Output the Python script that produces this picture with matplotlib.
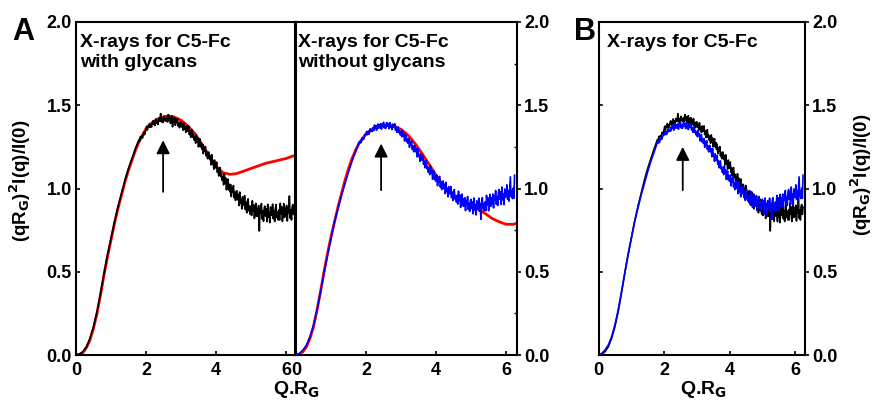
import numpy as np
import matplotlib
matplotlib.use("Agg")
import matplotlib.pyplot as plt
from matplotlib.ticker import MultipleLocator

plt.rcParams['font.family'] = ['Liberation Sans', 'DejaVu Sans']
plt.rcParams['font.weight'] = 'bold'
plt.rcParams['mathtext.default'] = 'bf'

# ---------------- data ----------------
# low-q (smooth) part of the measured curves
q_low = [0.0, 0.1, 0.2, 0.3, 0.4, 0.5, 0.6, 0.7, 0.8, 0.9, 1.0, 1.1, 1.2, 1.3, 1.4, 1.5, 1.6, 1.7]
glyc_low = [0.0, 0.005, 0.02, 0.05, 0.10, 0.17, 0.26, 0.37, 0.49, 0.60, 0.70, 0.80, 0.89,
            0.97, 1.05, 1.12, 1.18, 1.24]
noglyc_low = [0.0, 0.01, 0.03, 0.06, 0.11, 0.18, 0.27, 0.38, 0.49, 0.60, 0.70, 0.80, 0.88,
              0.96, 1.03, 1.10, 1.165, 1.22]

# high-q (noisy) part, q = 1.80 ... 6.24 step 0.02
q_high = np.round(np.arange(1.80, 6.2401, 0.02), 2)
glyc_high = [
    1.294, 1.285, 1.312, 1.303, 1.317, 1.303, 1.321, 1.336, 1.323, 1.340,
    1.352, 1.374, 1.351, 1.375, 1.370, 1.390, 1.367, 1.383, 1.369, 1.394,
    1.406, 1.386, 1.404, 1.378, 1.418, 1.392, 1.406, 1.384, 1.420, 1.404,
    1.406, 1.450, 1.400, 1.419, 1.396, 1.425, 1.434, 1.407, 1.420, 1.403,
    1.428, 1.400, 1.444, 1.413, 1.432, 1.391, 1.418, 1.437, 1.370, 1.421,
    1.398, 1.425, 1.379, 1.411, 1.396, 1.420, 1.375, 1.395, 1.365, 1.400,
    1.400, 1.370, 1.388, 1.350, 1.395, 1.357, 1.370, 1.337, 1.376, 1.350,
    1.344, 1.376, 1.324, 1.347, 1.307, 1.345, 1.353, 1.307, 1.321, 1.290,
    1.309, 1.272, 1.322, 1.282, 1.302, 1.250, 1.279, 1.299, 1.250, 1.276,
    1.235, 1.266, 1.209, 1.245, 1.225, 1.252, 1.196, 1.217, 1.179, 1.218,
    1.218, 1.174, 1.197, 1.142, 1.203, 1.148, 1.164, 1.116, 1.171, 1.133,
    1.123, 1.159, 1.097, 1.123, 1.075, 1.118, 1.126, 1.071, 1.086, 1.048,
    1.072, 1.022, 1.089, 1.035, 1.062, 0.992, 1.031, 1.057, 0.992, 1.026,
    0.980, 1.024, 0.951, 1.003, 0.978, 1.018, 0.945, 0.977, 0.928, 0.984,
    0.986, 0.933, 0.965, 0.898, 0.979, 0.912, 0.935, 0.877, 0.950, 0.906,
    0.900, 0.957, 0.874, 0.917, 0.854, 0.921, 0.938, 0.866, 0.893, 0.845,
    0.895, 0.838, 0.926, 0.864, 0.902, 0.820, 0.873, 0.911, 0.833, 0.880,
    0.833, 0.898, 0.745, 0.879, 0.851, 0.910, 0.816, 0.864, 0.803, 0.884,
    0.894, 0.834, 0.878, 0.801, 0.905, 0.828, 0.861, 0.795, 0.889, 0.839,
    0.839, 0.906, 0.818, 0.868, 0.802, 0.880, 0.903, 0.826, 0.860, 0.811,
    0.872, 0.811, 0.911, 0.846, 0.890, 0.802, 0.863, 0.909, 0.826, 0.882,
    0.833, 0.899, 0.805, 0.882, 0.855, 0.955, 0.822, 0.871, 0.811, 0.893,
    0.904, 0.844, 0.888,
]
noglyc_high = [
    1.280, 1.272, 1.287, 1.276, 1.304, 1.293, 1.305, 1.297, 1.322, 1.318,
    1.322, 1.343, 1.323, 1.340, 1.325, 1.350, 1.359, 1.341, 1.354, 1.343,
    1.365, 1.348, 1.381, 1.361, 1.378, 1.350, 1.372, 1.388, 1.362, 1.382,
    1.365, 1.390, 1.356, 1.385, 1.375, 1.398, 1.364, 1.383, 1.361, 1.392,
    1.396, 1.373, 1.388, 1.359, 1.396, 1.368, 1.379, 1.354, 1.387, 1.368,
    1.366, 1.389, 1.350, 1.367, 1.337, 1.364, 1.370, 1.336, 1.345, 1.322,
    1.343, 1.310, 1.350, 1.315, 1.330, 1.285, 1.308, 1.323, 1.280, 1.300,
    1.271, 1.300, 1.247, 1.281, 1.262, 1.288, 1.235, 1.256, 1.220, 1.257,
    1.259, 1.220, 1.238, 1.190, 1.241, 1.193, 1.205, 1.163, 1.208, 1.174,
    1.169, 1.199, 1.145, 1.166, 1.124, 1.160, 1.166, 1.118, 1.130, 1.096,
    1.125, 1.083, 1.136, 1.092, 1.112, 1.055, 1.085, 1.105, 1.052, 1.078,
    1.043, 1.081, 1.016, 1.061, 1.039, 1.073, 1.009, 1.036, 0.993, 1.041,
    1.045, 1.000, 1.026, 0.969, 1.037, 0.981, 1.000, 0.950, 1.011, 0.972,
    0.967, 1.012, 0.945, 0.979, 0.928, 0.981, 0.994, 0.936, 0.957, 0.918,
    0.959, 0.906, 0.984, 0.928, 0.961, 0.886, 0.933, 0.967, 0.896, 0.938,
    0.893, 0.945, 0.867, 0.928, 0.904, 0.952, 0.874, 0.912, 0.862, 0.927,
    0.935, 0.879, 0.919, 0.848, 0.943, 0.872, 0.902, 0.841, 0.926, 0.880,
    0.880, 0.942, 0.863, 0.910, 0.815, 0.923, 0.945, 0.877, 0.908, 0.865,
    0.920, 0.867, 0.959, 0.902, 0.944, 0.866, 0.923, 0.965, 0.893, 0.945,
    0.905, 0.967, 0.883, 0.955, 0.932, 0.988, 0.905, 0.952, 0.898, 0.975,
    0.994, 0.935, 0.980, 0.904, 1.009, 0.933, 0.967, 0.902, 0.997, 0.949,
    0.954, 1.022, 0.936, 0.988, 0.924, 1.003, 1.070, 0.952, 0.987, 0.939,
    1.002, 0.941, 1.080,
]

# model fits (red)
q_fit = [0.0, 0.1, 0.2, 0.3, 0.4, 0.5, 0.6, 0.7, 0.8, 0.9, 1.0, 1.1, 1.2, 1.3, 1.4, 1.5,
         1.6, 1.7, 1.8, 1.9, 2.0, 2.2, 2.4, 2.6, 2.8, 3.0, 3.2, 3.4, 3.6, 3.8, 4.0, 4.2,
         4.4, 4.6, 4.8, 5.0, 5.2, 5.4, 5.6, 5.8, 6.0, 6.2, 6.3]
fit_glyc = [0.0, 0.004, 0.015, 0.045, 0.09, 0.16, 0.25, 0.36, 0.48, 0.59, 0.69, 0.79, 0.88,
            0.96, 1.04, 1.11, 1.17, 1.23, 1.28, 1.32, 1.36, 1.40, 1.425, 1.435, 1.43, 1.41,
            1.375, 1.33, 1.265, 1.20, 1.135, 1.095, 1.085, 1.09, 1.105, 1.12, 1.135, 1.15,
            1.16, 1.17, 1.18, 1.195, 1.20]
fit_noglyc = [0.0, 0.005, 0.02, 0.05, 0.10, 0.17, 0.27, 0.38, 0.50, 0.61, 0.71, 0.80, 0.89,
              0.97, 1.05, 1.12, 1.18, 1.23, 1.27, 1.30, 1.33, 1.36, 1.375, 1.38, 1.375, 1.355,
              1.32, 1.27, 1.21, 1.145, 1.08, 1.02, 0.975, 0.94, 0.915, 0.895, 0.875, 0.85,
              0.82, 0.80, 0.785, 0.785, 0.79]

# arrow positions (peak markers): x, tail y, tip y
arrow_A1 = (2.49, 0.98, 1.29)
arrow_A2 = (2.43, 0.99, 1.27)
arrow_B = (2.57, 0.99, 1.25)

y_ticks = [0.0, 0.5, 1.0, 1.5, 2.0]
y_ticklabels = ['0.0', '0.5', '1.0', '1.5', '2.0']
x_ticks = [0, 2, 4, 6]

glyc_q = list(q_low) + list(q_high)
glyc_y = list(glyc_low) + list(glyc_high)
noglyc_q = list(q_low) + list(q_high)
noglyc_y = list(noglyc_low) + list(noglyc_high)

# ---------------- figure ----------------
W, H = 873, 400
fig = plt.figure(figsize=(W / 100, H / 100), dpi=100)


def ax_at(l, r, t, b):
    return fig.add_axes([l / W, 1 - b / H, (r - l) / W, (b - t) / H])


axA1 = ax_at(76, 295, 22, 355)
axA2 = ax_at(296, 517, 22, 355)
axB = ax_at(598.5, 805, 22, 355)

BLACK = '#000000'
RED = '#ff0000'
BLUE = '#0000ff'
TICK_FS = 13
DATA_LW = 1.2

for ax in (axA1, axA2, axB):
    ax.set_ylim(0, 2.0)
    for s in ax.spines.values():
        s.set_linewidth(1.5)
    ax.set_xticks(x_ticks)
    ax.tick_params(axis='x', direction='in', length=3, width=1.2, labelsize=TICK_FS, pad=5)
    ax.yaxis.set_minor_locator(MultipleLocator(0.25))

axA1.set_xlim(0, 6.26)
axA2.set_xlim(0, 6.31)
axB.set_xlim(0, 6.3)

# Panel A1
axA1.plot(q_fit, fit_glyc, color=RED, lw=2.0, zorder=2)
axA1.plot(glyc_q, glyc_y, color=BLACK, lw=DATA_LW, zorder=3)
axA1.set_yticks(y_ticks)
axA1.set_yticklabels(y_ticklabels)
axA1.tick_params(axis='y', which='major', direction='in', length=3, width=1.2,
                 labelsize=TICK_FS, left=True, right=False, pad=3)
axA1.tick_params(axis='y', which='minor', left=False, right=False)

# Panel A2
axA2.plot(q_fit, fit_noglyc, color=RED, lw=2.0, zorder=2)
axA2.plot(noglyc_q, noglyc_y, color=BLUE, lw=DATA_LW, zorder=3)
axA2.yaxis.tick_right()
axA2.set_yticks(y_ticks)
axA2.set_yticklabels(y_ticklabels)
axA2.tick_params(axis='y', which='major', direction='out', length=3, width=1.2,
                 labelsize=TICK_FS, left=False, right=True, pad=2)
axA2.tick_params(axis='y', which='minor', direction='in', length=2, width=1.0,
                 left=False, right=True)

# Panel B
axB.plot(glyc_q, glyc_y, color=BLACK, lw=DATA_LW, zorder=2)
axB.plot(noglyc_q, noglyc_y, color=BLUE, lw=DATA_LW, zorder=3)
axB.yaxis.tick_right()
axB.set_yticks(y_ticks)
axB.set_yticklabels(y_ticklabels)
axB.tick_params(axis='y', which='major', direction='out', length=3, width=1.2,
                labelsize=TICK_FS, left=False, right=True, pad=2)
axB.tick_params(axis='y', which='minor', left=False, right=False)
# inward left ticks without labels
for yv in y_ticks[1:-1]:
    axB.plot([0, 0.12], [yv, yv], color=BLACK, lw=1.2, clip_on=False, zorder=4)

for ax, (ax_x, y0, y1) in ((axA1, arrow_A1), (axA2, arrow_A2), (axB, arrow_B)):
    ax.annotate('', xy=(ax_x, y1), xytext=(ax_x, y0),
                arrowprops=dict(arrowstyle='-|>', mutation_scale=20, color=BLACK,
                                lw=1.3, shrinkA=0, shrinkB=0), zorder=5)

# titles in panels
TFS = 14
axA1.text(0.02, 0.963, 'X-rays for C5-Fc\nwith glycans', transform=axA1.transAxes,
          fontsize=TFS, fontweight='bold', va='top', ha='left', linespacing=1.2)
axA2.text(0.01, 0.963, 'X-rays for C5-Fc\nwithout glycans', transform=axA2.transAxes,
          fontsize=TFS, fontweight='bold', va='top', ha='left', linespacing=1.2)
axB.text(0.041, 0.963, 'X-rays for C5-Fc', transform=axB.transAxes,
         fontsize=TFS, fontweight='bold', va='top', ha='left')

# axis labels
ylab = r'(qR$_\mathbf{G}$)$^\mathbf{2}$I(q)/I(0)'
fig.text(20 / W, 1 - 181 / H, ylab, rotation=90, ha='center', va='center',
         fontsize=13.5, fontweight='bold')
fig.text(861 / W, 1 - 175 / H, ylab, rotation=90, ha='center', va='center',
         fontsize=13.5, fontweight='bold')
xlab = r'Q.R$_\mathbf{G}$'
fig.text(296 / W, 1 - 389 / H, xlab, ha='center', va='center', fontsize=14, fontweight='bold')
fig.text(703 / W, 1 - 389 / H, xlab, ha='center', va='center', fontsize=14, fontweight='bold')

# panel letters
fig.text(12 / W, 1 - 40 / H, 'A', fontsize=22, fontweight='bold', ha='left', va='baseline')
fig.text(574 / W, 1 - 40 / H, 'B', fontsize=22, fontweight='bold', ha='left', va='baseline')

fig.savefig('out.png', dpi=100)
